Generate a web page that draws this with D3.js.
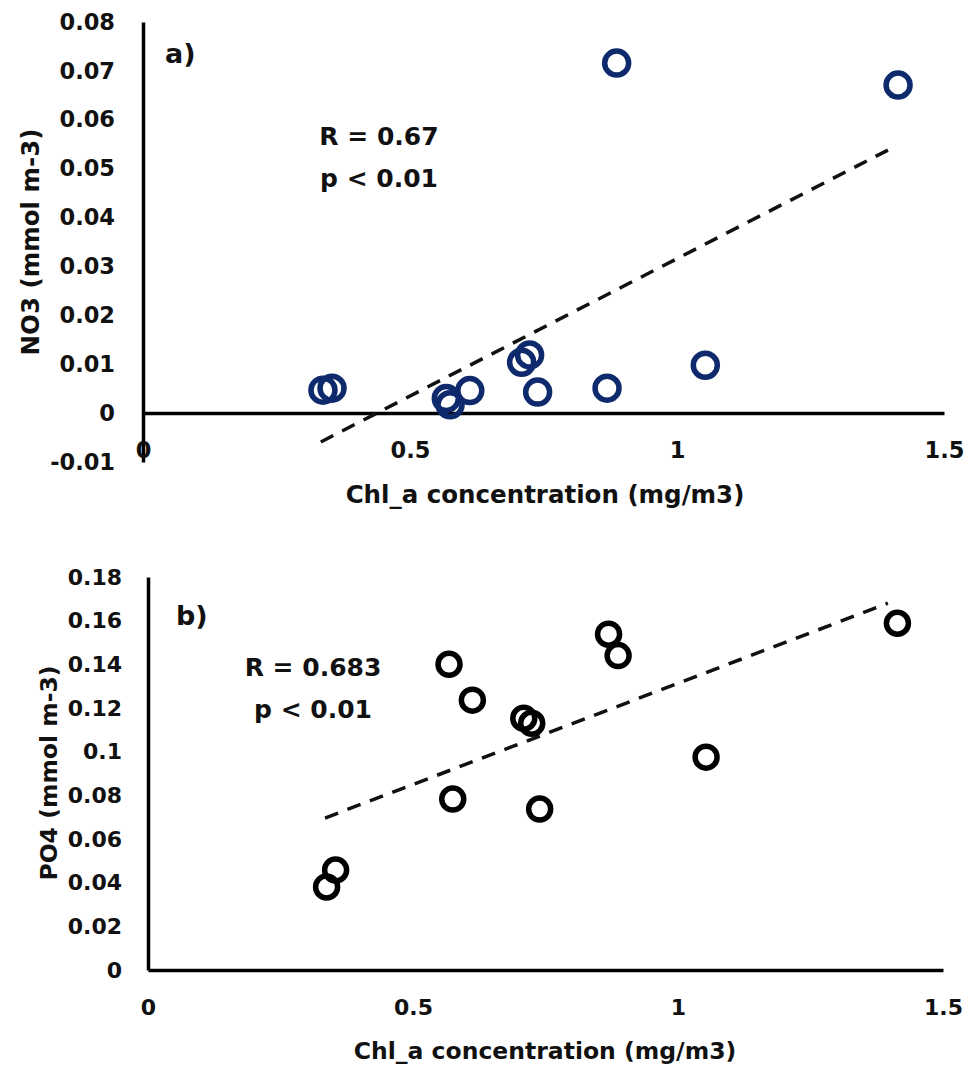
<!DOCTYPE html>
<html>
<head>
<meta charset="utf-8">
<script src="https://cdn.jsdelivr.net/npm/d3@7"></script>
<style>
  body { margin: 0; background: #fff; }
  text { font-family: "DejaVu Sans", "Open Sans", sans-serif; font-weight: 700; fill: #111; }
</style>
</head>
<body>
<div class="canvas"></div>
<script>
// chl_a values shared by both panels
const chlA = [0.337, 0.354, 0.568, 0.575, 0.612, 0.709, 0.724, 0.739, 0.869, 0.887, 1.053, 1.414];
const no3  = [0.0047, 0.0051, 0.0030, 0.0017, 0.0046, 0.0104, 0.0119, 0.0043, 0.0051, 0.0716, 0.0098, 0.0671];
const po4  = [0.038, 0.0458, 0.140, 0.0783, 0.1236, 0.1153, 0.113, 0.0737, 0.1538, 0.144, 0.0975, 0.1588];

// trend line end points [x, y]
const trendNo3 = [[0.333, -0.0059], [1.395, 0.0538]];
const trendPo4 = [[0.334, 0.0696], [1.396, 0.168]];

const xTicks = [0, 0.5, 1, 1.5];
const xTickLabels = ['0', '0.5', '1', '1.5'];
const yTicksA = [-0.01, 0, 0.01, 0.02, 0.03, 0.04, 0.05, 0.06, 0.07, 0.08];
const yTickLabelsA = ['-0.01', '0', '0.01', '0.02', '0.03', '0.04', '0.05', '0.06', '0.07', '0.08'];
const yTicksB = [0, 0.02, 0.04, 0.06, 0.08, 0.1, 0.12, 0.14, 0.16, 0.18];
const yTickLabelsB = ['0', '0.02', '0.04', '0.06', '0.08', '0.1', '0.12', '0.14', '0.16', '0.18'];

const svg = d3.select('.canvas')
  .append('svg')
    .attr('width', 979)
    .attr('height', 1083);

function panel(opt) {
  const x = d3.scaleLinear().domain([0, 1.5]).range(opt.xRange);
  const y = d3.scaleLinear().domain(opt.yDomain).range(opt.yRange);
  const g = svg.append('g');

  // y axis
  const yAxis = d3.axisLeft(y)
    .tickValues(opt.yTicks)
    .tickFormat((d, i) => opt.yLabels[i])
    .tickSize(0)
    .tickPadding(opt.yPad);
  const yg = g.append('g')
    .attr('transform', `translate(${opt.xRange[0]},0)`)
    .call(yAxis);
  yg.select('.domain').attr('stroke', '#000').attr('stroke-width', 3.5);
  yg.selectAll('.tick text')
    .attr('font-size', opt.tickSize)
    .attr('font-family', null).attr('fill', null);

  // x axis, line at y = 0, labels along the bottom
  const xAxis = d3.axisBottom(x)
    .tickValues(xTicks)
    .tickFormat((d, i) => xTickLabels[i])
    .tickSize(0)
    .tickPadding(opt.xPad);
  const xg = g.append('g')
    .attr('transform', `translate(0,${y(0)})`)
    .call(xAxis);
  xg.select('.domain').attr('stroke', '#000').attr('stroke-width', 3.5);
  xg.selectAll('.tick text')
    .attr('font-size', opt.tickSize)
    .attr('font-family', null).attr('fill', null);

  // axis titles
  g.append('text')
    .attr('x', opt.xTitle[0]).attr('y', opt.xTitle[1])
    .attr('text-anchor', 'middle')
    .attr('font-size', opt.titleSize)
    .text('Chl_a concentration (mg/m3)');
  g.append('text')
    .attr('transform', `translate(${opt.yTitle[0]},${opt.yTitle[1]}) rotate(-90)`)
    .attr('text-anchor', 'middle')
    .attr('font-size', opt.titleSize)
    .text(opt.yName);

  // trend line
  g.append('path')
    .datum(opt.trend)
    .attr('d', d3.line().x(d => x(d[0])).y(d => y(d[1])))
    .attr('fill', 'none')
    .attr('stroke', '#111')
    .attr('stroke-width', 3.5)
    .attr('stroke-dasharray', '14,10');

  // points
  g.selectAll('circle')
    .data(chlA.map((c, i) => [c, opt.values[i]]))
    .enter()
    .append('circle')
      .attr('cx', d => x(d[0]))
      .attr('cy', d => y(d[1]))
      .attr('r', opt.r)
      .attr('fill', 'none')
      .attr('stroke', opt.color)
      .attr('stroke-width', 5.5);

  // panel letter and stats
  g.append('text')
    .attr('x', opt.letter[0]).attr('y', opt.letter[1])
    .attr('font-size', 27)
    .text(opt.letterText);
  g.append('text')
    .attr('x', opt.stats[0]).attr('y', opt.stats[1])
    .attr('text-anchor', 'middle')
    .attr('font-size', 25)
    .text(opt.rText);
  g.append('text')
    .attr('x', opt.stats[0]).attr('y', opt.stats[1] + 42)
    .attr('text-anchor', 'middle')
    .attr('font-size', 25)
    .text('p < 0.01');
}

panel({
  xRange: [143, 944],
  yDomain: [-0.01, 0.08],
  yRange: [462, 22],
  yTicks: yTicksA,
  yLabels: yTickLabelsA,
  tickSize: 22.5,
  yPad: 28,
  xPad: 29,
  values: no3,
  trend: trendNo3,
  color: '#0e2a6c',
  r: 12,
  titleSize: 24.5,
  xTitle: [545, 503],
  yTitle: [39, 242],
  yName: 'NO3 (mmol m-3)',
  letter: [165, 63],
  letterText: 'a)',
  stats: [379, 145],
  rText: 'R = 0.67'
});

panel({
  xRange: [148, 943],
  yDomain: [0, 0.18],
  yRange: [970, 577],
  yTicks: yTicksB,
  yLabels: yTickLabelsB,
  tickSize: 22,
  yPad: 26,
  xPad: 29,
  values: po4,
  trend: trendPo4,
  color: '#000',
  r: 11,
  titleSize: 23.5,
  xTitle: [545, 1059],
  yTitle: [57, 773],
  yName: 'PO4 (mmol m-3)',
  letter: [176, 625],
  letterText: 'b)',
  stats: [313, 676],
  rText: 'R = 0.683'
});
</script>
</body>
</html>
